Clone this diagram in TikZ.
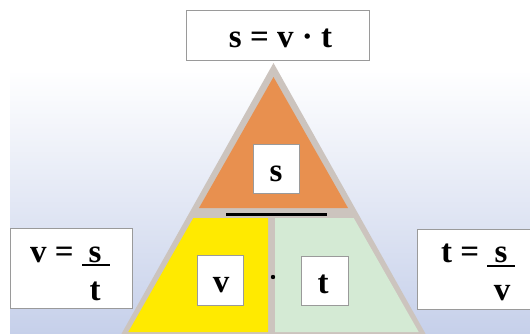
\documentclass[tikz,border=0pt]{standalone}
\usepackage{fontspec}
\setmainfont{Liberation Serif}
\definecolor{bgbot}{HTML}{C6D0EA}
\definecolor{tgray}{HTML}{CCC4BE}
\definecolor{torange}{HTML}{E8904F}
\definecolor{tyellow}{HTML}{FFEA00}
\definecolor{tgreen}{HTML}{D4EAD4}
\definecolor{boxgray}{HTML}{9A9A9A}

\begin{document}

\begin{tikzpicture}[x=1pt,y=-1pt,
  box/.style={draw=boxgray, line width=0.9pt, fill=white, inner sep=0pt},
  lbl/.style={font=\fontsize{33}{36}\selectfont\bfseries, inner sep=0pt, anchor=base},
  fracbar/.style={line width=1.6pt}]
\useasboundingbox (0,0) rectangle (530,334);
\clip (0,0) rectangle (530,334);
% background
\fill[white] (0,0) rectangle (530,334);
\shade[top color=white, bottom color=bgbot] (10,70) rectangle (530,334);
% triangle
\fill[tgray] (273.5,63) -- (118,340) -- (429,340) -- cycle;
\fill[torange] (273.5,77) -- (199,208) -- (348,208) -- cycle;
\fill[tyellow] (193.3,218) -- (268,218) -- (268,332) -- (128.3,332) -- cycle;
\fill[tgreen] (275,218) -- (353.7,218) -- (418.7,332) -- (275,332) -- cycle;
\draw[line width=3pt] (226,214) -- (327,214);
\fill (273,277) circle (2.2);
% boxes
\node[box, minimum width=183pt, minimum height=50pt] (top) at (277.5,35) {};
\node[lbl] (eq) at (280.5,48) {s = v · t};
\node[box, minimum width=46pt, minimum height=49pt] (sbox) at (276,168.5) {};
\node[lbl] (s) at (276,181) {s};
\node[box, minimum width=46pt, minimum height=50pt] (vbox) at (220,280) {};
\node[lbl] (v) at (221,292) {v};
\node[box, minimum width=47pt, minimum height=49pt] (tbox) at (324.5,280.5) {};
\node[lbl] (t) at (323,293) {t};
% left formula
\node[box, minimum width=122pt, minimum height=80pt] (lbox) at (71,268) {};
\node[lbl, anchor=base west] (lv) at (30,262) {v =};
\node[lbl] (ls) at (95,262) {s};
\node[lbl] (lt) at (95,300) {t};
\coordinate (lb1) at (82,265);
\coordinate (lb2) at (110,265);
\draw[fracbar] (lb1) -- (lb2);
% right formula
\node[box, minimum width=114pt, minimum height=80pt] (rbox) at (474,269) {};
\node[lbl, anchor=base west] (rt) at (441,262) {t =};
\node[lbl] (rs) at (501,262) {s};
\node[lbl] (rv) at (502,300) {v};
\coordinate (rb1) at (487,266);
\coordinate (rb2) at (515,266);
\draw[fracbar] (rb1) -- (rb2);
\end{tikzpicture}

\end{document}
